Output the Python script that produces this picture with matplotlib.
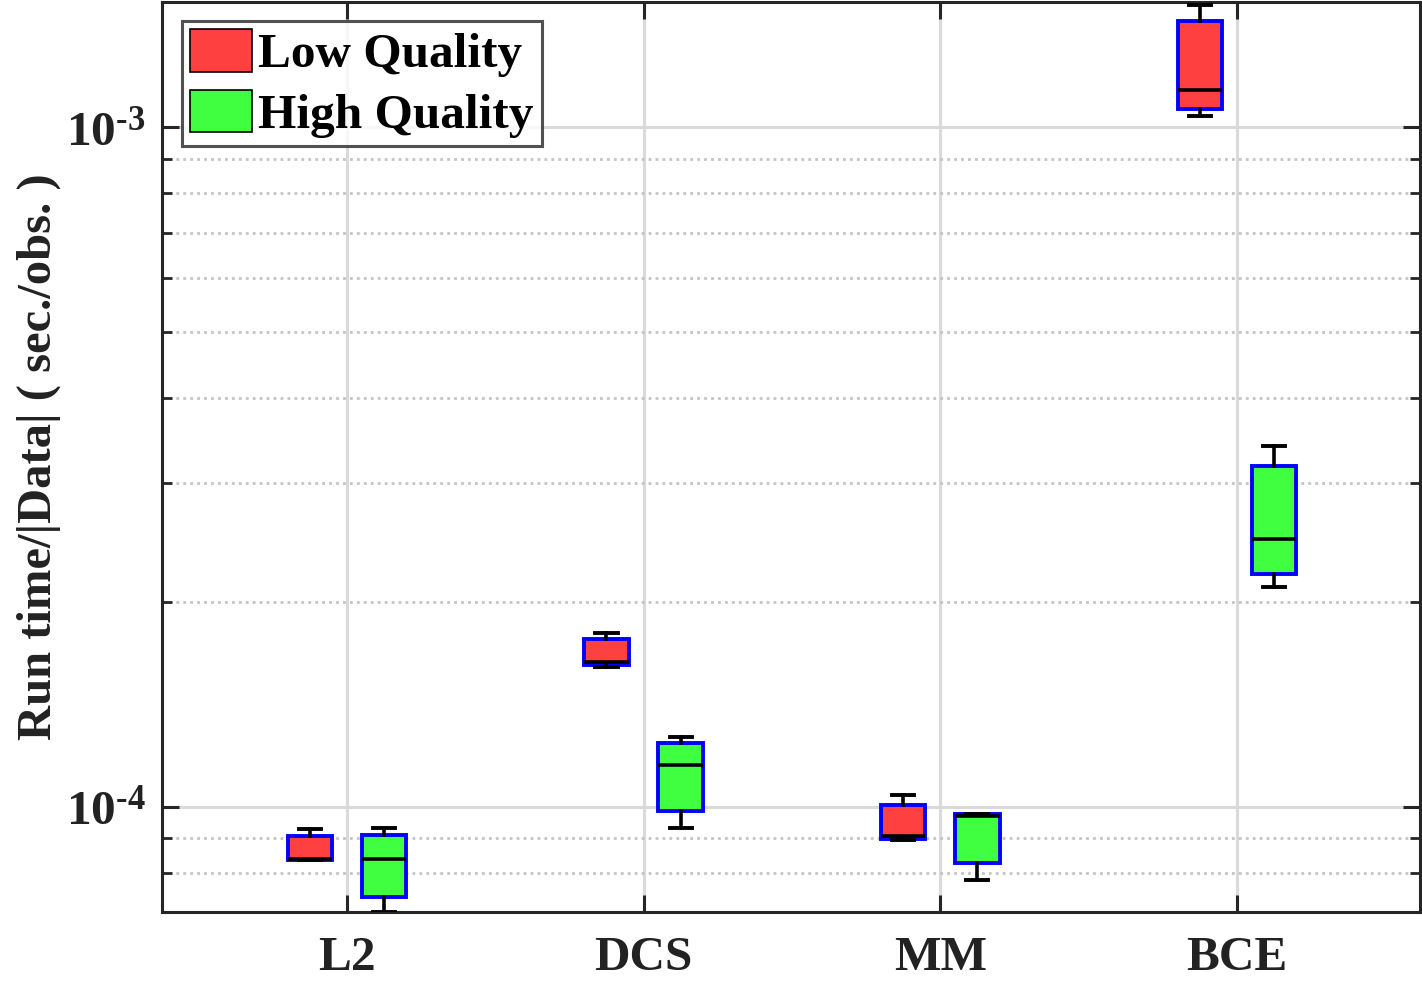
import matplotlib
matplotlib.use("Agg")
import matplotlib.pyplot as plt
from matplotlib.patches import Patch
from matplotlib.ticker import LogLocator, NullFormatter, FuncFormatter
import math

plt.rcParams['font.family'] = ['Liberation Serif', 'DejaVu Serif']
plt.rcParams['font.weight'] = 'bold'
plt.rcParams['mathtext.fontset'] = 'custom'
plt.rcParams['mathtext.rm'] = 'Liberation Serif:bold'
plt.rcParams['mathtext.it'] = 'Liberation Serif:bold'
plt.rcParams['mathtext.bf'] = 'Liberation Serif:bold'

categories = ['L2', 'DCS', 'MM', 'BCE']
series = ['Low Quality', 'High Quality']
colors = ['#FF4040', '#40FF40']

# box statistics: whislo, q1, med, q3, whishi
low_whislo = [8.35e-5, 1.605e-4, 8.95e-5, 1.041e-3]
low_q1     = [8.36e-5, 1.616e-4, 8.98e-5, 1.066e-3]
low_med    = [8.37e-5, 1.633e-4, 9.07e-5, 1.137e-3]
low_q3     = [9.07e-5, 1.765e-4, 1.007e-4, 1.436e-3]
low_whishi = [9.28e-5, 1.801e-4, 1.041e-4, 1.516e-3]

high_whislo = [7.0e-5, 9.315e-5, 7.79e-5, 2.104e-4]
high_q1     = [7.37e-5, 9.866e-5, 8.27e-5, 2.198e-4]
high_med    = [8.387e-5, 1.153e-4, 9.70e-5, 2.475e-4]
high_q3     = [9.10e-5, 1.242e-4, 9.765e-5, 3.178e-4]
high_whishi = [9.315e-5, 1.267e-4, 9.77e-5, 3.402e-4]

def make_stats(wl, q1, med, q3, wh):
    return [dict(whislo=a, q1=b, med=c, q3=d, whishi=e, fliers=[])
            for a, b, c, d, e in zip(wl, q1, med, q3, wh)]

low_stats = make_stats(low_whislo, low_q1, low_med, low_q3, low_whishi)
high_stats = make_stats(high_whislo, high_q1, high_med, high_q3, high_whishi)

fig = plt.figure(figsize=(14.22, 9.84), dpi=100)
ax = fig.add_axes([162/1422, 1-912/984, 1258/1422, 910/984])

x = list(range(1, len(categories) + 1))
offset = 0.125
for stats, col, sgn in [(low_stats, colors[0], -1), (high_stats, colors[1], 1)]:
    ax.bxp(stats, positions=[xi + sgn*offset for xi in x], widths=0.15,
           patch_artist=True, showfliers=False, manage_ticks=False,
           boxprops=dict(facecolor=col, edgecolor='#0000FF', linewidth=2.8),
           medianprops=dict(color='black', linewidth=2.6),
           whiskerprops=dict(color='black', linewidth=2.6),
           capprops=dict(color='black', linewidth=2.8),
           capwidths=0.075, zorder=3)

ax.set_yscale('log')
ax.set_ylim(7.0e-5, 1.53e-3)
ax.set_xlim(0.377, 4.617)
ax.set_xticks(x)
ax.set_xticklabels(categories)
ax.yaxis.set_major_locator(LogLocator(base=10, numticks=10))
ax.yaxis.set_minor_locator(LogLocator(base=10, subs=range(2, 10), numticks=100))
ax.yaxis.set_minor_formatter(NullFormatter())

def fmt(v, pos):
    e = int(round(math.log10(v)))
    return r'$\mathregular{10^{\text{-}%d}}$' % (-e) if e < 0 else r'$\mathregular{10^{%d}}$' % e
ax.yaxis.set_major_formatter(FuncFormatter(fmt))

ax.grid(True, which='major', color='#DADADA', linewidth=2.2, linestyle='-', zorder=0)
ax.grid(True, which='minor', axis='y', color='#C4C4C4', linewidth=2.0,
        linestyle=(0, (1, 1.5)), zorder=0)
ax.set_axisbelow(True)

ax.tick_params(axis='both', which='major', direction='in', length=12, width=2.2,
               color='#262626', labelsize=35.5, top=True, right=True, pad=12)
ax.tick_params(axis='y', which='minor', direction='in', length=7, width=2.0,
               color='#262626', left=True, right=True)
ax.tick_params(axis='x', pad=17)
for lab in ax.get_xticklabels() + ax.get_yticklabels():
    lab.set_fontweight('bold')
    lab.set_color('#222222')
for sp in ax.spines.values():
    sp.set_linewidth(2.2)
    sp.set_color('#262626')

ax.set_ylabel('Run time/|Data| ( sec./obs. )', fontsize=35, fontweight='bold',
              color='#222222')
ax.yaxis.set_label_coords(-0.080, 0.5)

handles = [Patch(facecolor=c, edgecolor='black', linewidth=1.2, label=s)
           for c, s in zip(colors, series)]
leg = ax.legend(handles=handles, loc='upper left', bbox_to_anchor=(0.0159, 0.979),
                borderaxespad=0, frameon=True, fancybox=False,
                handlelength=1.25, handleheight=0.95, handletextpad=0.14,
                borderpad=0.16, labelspacing=0.25, prop=dict(weight='bold', size=35.5))
leg.get_frame().set_edgecolor('#262626')
leg.get_frame().set_linewidth(2.2)
leg.set_zorder(5)

fig.savefig('out.png', dpi=100)
